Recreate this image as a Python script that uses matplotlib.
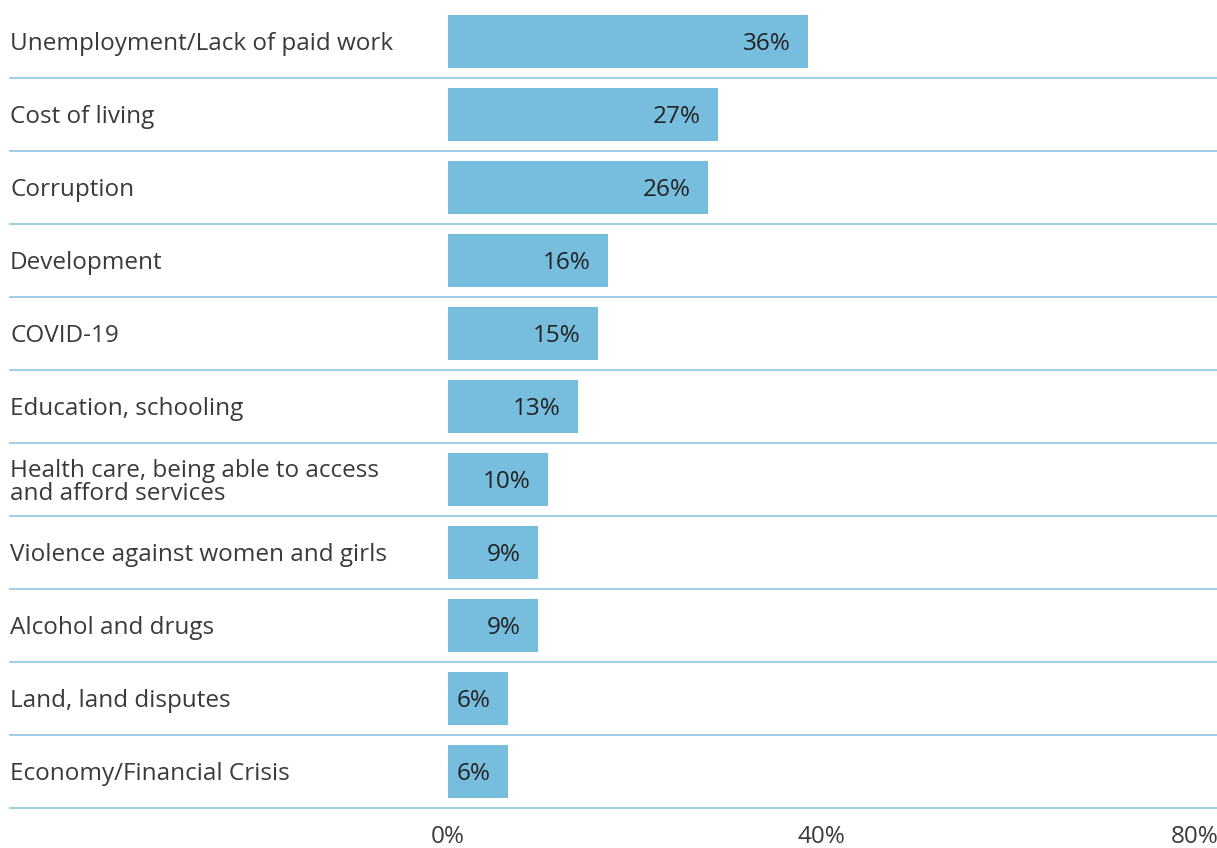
import numpy as np
import matplotlib
matplotlib.use("Agg")
import matplotlib.pyplot as plt

# 数据
categories = [
    "Unemployment/Lack of paid work",
    "Cost of living",
    "Corruption",
    "Development",
    "COVID-19",
    "Education, schooling",
    "Health care, being able to access\nand afford services",
    "Violence against women and girls",
    "Alcohol and drugs",
    "Land, land disputes",
    "Economy/Financial Crisis",
]
values = [36, 27, 26, 16, 15, 13, 10, 9, 9, 6, 6]
tick_values = [0, 40, 80]
tick_labels = ["0%", "40%", "80%"]

bar_color = "#77BDDE"
line_color = "#95CCE6"
text_color = "#3a3a3a"

plt.rcParams['font.family'] = ['Open Sans', 'DejaVu Sans']

W, H = 1217, 848
fig = plt.figure(figsize=(W / 100, H / 100), dpi=100)
ax = fig.add_axes([10 / W, (H - 808) / H, (W - 10) / W, 803 / H])

n = len(categories)
y = np.arange(n)
ax.barh(y, values, height=53 / 73, color=bar_color, zorder=2)
ax.set_ylim(n - 0.5, -0.5)
# 0% 在 448px, 10px 每 1%
ax.set_xlim(-(448 - 10) / 10, (W - 448) / 10)

for i, (c, v) in enumerate(zip(categories, values)):
    ax.text(0, i + 0.04, c, transform=ax.get_yaxis_transform(), ha='left', va='center',
            fontsize=17.5, color=text_color, linespacing=0.95)
    ax.text(v - 1.7, i + 0.04, f"{v}%", ha='right', va='center', fontsize=17.5,
            color="#222222", zorder=3)

# 分隔线
for i in range(n):
    ax.axhline(i + 0.5, color=line_color, lw=1.3, zorder=1, clip_on=False)

for s in ax.spines.values():
    s.set_visible(False)
ax.set_yticks([])
ax.set_xticks([])

# 底部刻度标签
k = 1.072
sec = ax.secondary_xaxis('bottom', functions=(lambda x: x * k, lambda x: x / k))
sec.set_xticks(tick_values)
sec.set_xticklabels(tick_labels, fontsize=17.5, color=text_color)
sec.tick_params(length=0, pad=12)
sec.spines['bottom'].set_color('none')

fig.savefig("out.png", dpi=100)
